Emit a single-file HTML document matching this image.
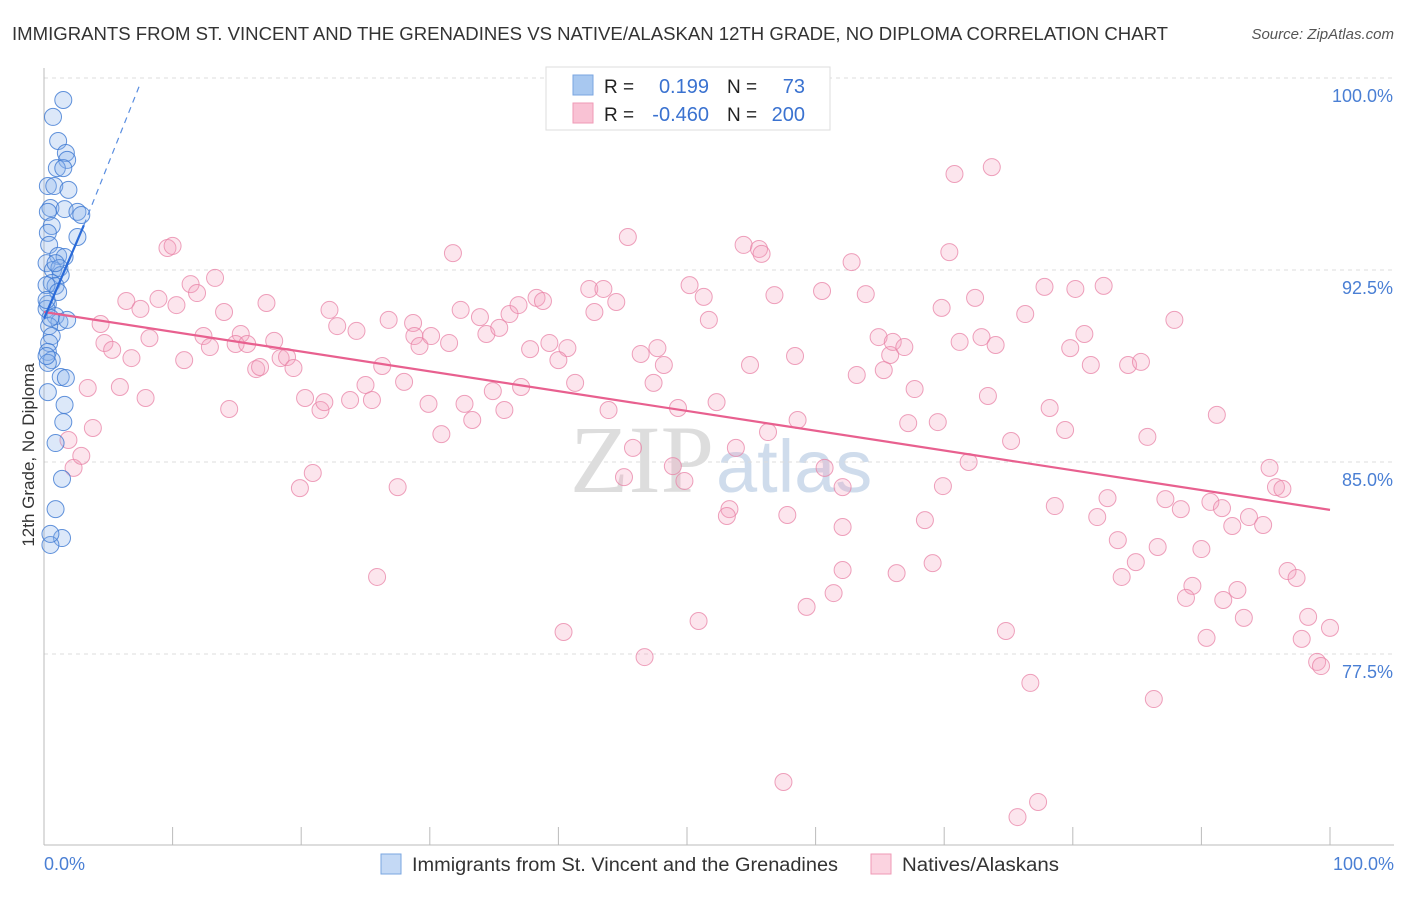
<!DOCTYPE html>
<html><head><meta charset="utf-8"><style>
body{margin:0;background:#fff;font-family:"Liberation Sans",sans-serif;}
svg text{font-family:"Liberation Sans",sans-serif;}
</style></head><body>
<svg id="chart" width="1406" height="892">
<text x="12" y="40" font-size="18" fill="#333" textLength="1156" lengthAdjust="spacingAndGlyphs">IMMIGRANTS FROM ST. VINCENT AND THE GRENADINES VS NATIVE/ALASKAN 12TH GRADE, NO DIPLOMA CORRELATION CHART</text>
<text x="1394" y="39" font-size="15" fill="#555" font-style="italic" text-anchor="end">Source: ZipAtlas.com</text>
<text x="714" y="492" font-size="96" fill="#ddd" text-anchor="end" style="font-family:'Liberation Serif',serif">ZIP</text>
<text x="716" y="492" font-size="74" fill="#cfdcec">atlas</text>
<g id="grid"></g><g id="marks"></g>
<text transform="translate(34,455) rotate(-90)" font-size="17" fill="#333" text-anchor="middle">12th Grade, No Diploma</text>
<text x="44" y="870" font-size="18" fill="#4a7fd4">0.0%</text>
<text x="1394" y="870" font-size="18" fill="#4a7fd4" text-anchor="end">100.0%</text>
<g>
<rect x="546" y="67" width="284" height="63" fill="#fff" stroke="#ddd"/>
<rect x="573" y="75" width="20" height="20" fill="#a8c8f0" stroke="#7aa6e0"/>
<rect x="573" y="103" width="20" height="20" fill="#f9c2d4" stroke="#ef9ab6"/>
<text x="604" y="93" font-size="19" fill="#222">R =</text><text x="709" y="93" font-size="20" fill="#3a72d0" text-anchor="end">0.199</text>
<text x="727" y="93" font-size="19" fill="#222">N =</text><text x="805" y="93" font-size="20" fill="#3a72d0" text-anchor="end">73</text>
<text x="604" y="121" font-size="19" fill="#222">R =</text><text x="709" y="121" font-size="20" fill="#3a72d0" text-anchor="end">-0.460</text>
<text x="727" y="121" font-size="19" fill="#222">N =</text><text x="805" y="121" font-size="20" fill="#3a72d0" text-anchor="end">200</text>
</g>
<g>
<rect x="381" y="854" width="20" height="20" fill="#c4d9f5" stroke="#7aa6e0"/>
<text x="412" y="871" font-size="19" fill="#333" textLength="426" lengthAdjust="spacingAndGlyphs">Immigrants from St. Vincent and the Grenadines</text>
<rect x="871" y="854" width="20" height="20" fill="#fbd3e0" stroke="#ef9ab6"/>
<text x="902" y="871" font-size="19" fill="#333" textLength="157" lengthAdjust="spacingAndGlyphs">Natives/Alaskans</text>
</g>
</svg>
<script>
const yTicks=[77.5,85.0,92.5,100.0];
const xTickVals=[0,10,20,30,40,50,60,70,80,90,100];
const blueX=[1.5,0.7,1.1,1.7,1.8,1.0,1.5,0.3,0.8,1.9,0.5,0.3,1.6,2.6,2.9,0.6,0.3,2.6,0.4,1.1,1.6,0.2,0.7,1.2,1.3,0.6,0.9,0.3,0.2,0.9,1.2,1.8,0.4,0.6,0.4,0.3,0.6,0.3,1.3,1.7,0.3,1.6,1.5,0.9,1.4,0.9,1.4,0.5,0.5,0.5,0.2,0.9,1.1,0.2,0.2];
const blueY=[99.14,98.48,97.54,97.07,96.8,96.48,96.48,95.78,95.78,95.63,94.92,94.77,94.88,94.77,94.65,94.22,93.95,93.79,93.48,93.05,93.01,92.77,92.5,92.58,92.3,91.99,91.88,91.17,90.98,90.7,90.47,90.55,90.31,89.92,89.65,89.3,88.98,88.87,88.32,88.28,87.73,87.23,86.56,85.74,84.34,83.16,82.03,81.76,82.19,90.63,91.91,92.77,91.64,91.33,89.14];
const pinkX=[60.2,73.7,70.8,45.4,54.4,55.6,55.8,9.6,10.0,31.8,70.4,62.8,13.3,11.4,11.9,6.4,8.9,7.5,10.3,17.3,14.0,4.4,4.7,5.3,6.8,8.2,10.9,12.4,12.9,15.3,14.9,15.8,17.9,18.4,18.9,19.4,16.5,16.8,22.2,22.8,24.3,26.8,28.7,28.8,29.2,30.1,31.5,32.4,33.9,34.4,35.4,36.2,36.9,38.3,38.8,37.8,39.3,40.7,40.0,42.4,43.5,44.5,42.8,46.4,47.7,48.2,47.4,50.2,51.3,51.7,56.8,60.5,63.9,64.9,65.8,66.0,66.9,65.3,63.2,54.9,58.4,67.7,69.8,71.2,72.4,72.9,74.0,76.3,77.8,80.2,82.4,80.9,79.8,81.4,84.3,85.3,87.9,3.4,5.9,7.9,14.4,20.3,21.5,21.8,23.8,25.5,25.0,26.3,28.0,29.9,32.7,33.3,30.9,34.9,35.8,37.1,41.3,43.9,49.3,52.3,56.3,58.6,60.7,62.1,67.2,69.5,73.4,75.2,78.2,79.4,85.8,91.2,3.8,1.9,2.3,2.9,19.9,20.9,27.5,45.8,45.1,48.9,49.8,53.8,53.3,53.1,57.8,62.1,68.5,71.9,69.9,78.6,82.7,81.9,87.2,88.4,90.7,91.6,93.7,94.8,92.4,95.3,95.8,96.3,83.5,86.6,84.9,83.8,90.0,96.7,97.4,89.3,88.8,91.7,92.8,93.3,98.3,100.0,97.8,90.4,69.1,66.3,62.1,61.4,59.3,50.9,40.4,46.7,25.9,74.8,76.7,86.3,99.0,99.3,57.5,77.3,75.7];
const pinkY=[98.75,96.52,96.25,93.79,93.48,93.32,93.13,93.36,93.44,93.16,93.2,92.81,92.19,91.95,91.6,91.29,91.37,90.98,91.13,91.21,90.86,90.39,89.65,89.38,89.06,89.84,88.98,89.92,89.49,90.0,89.61,89.61,89.73,89.06,89.1,88.67,88.63,88.71,90.94,90.31,90.12,90.55,90.43,89.92,89.53,89.92,89.65,90.94,90.66,90.0,90.24,90.78,91.13,91.41,91.29,89.41,89.65,89.45,88.98,91.76,91.76,91.25,90.86,89.22,89.45,88.79,88.09,91.91,91.45,90.55,91.52,91.68,91.56,89.88,89.18,89.69,89.49,88.59,88.4,88.79,89.14,87.85,91.02,89.69,91.41,89.88,89.57,90.78,91.84,91.76,91.88,90.0,89.45,88.79,88.79,88.91,90.55,87.89,87.93,87.5,87.07,87.5,87.03,87.34,87.42,87.42,88.01,88.75,88.13,87.27,87.27,86.64,86.09,87.77,87.03,87.93,88.09,87.03,87.11,87.34,86.17,86.64,84.77,84.02,86.52,86.56,87.58,85.82,87.11,86.25,85.98,86.84,86.33,85.86,84.77,85.24,83.98,84.57,84.02,85.55,84.41,84.84,84.26,85.55,83.16,82.89,82.93,82.46,82.73,85.0,84.06,83.28,83.59,82.85,83.55,83.16,83.44,83.2,82.85,82.54,82.5,84.77,84.02,83.95,81.95,81.68,81.09,80.51,81.6,80.74,80.47,80.16,79.69,79.61,80.0,78.91,78.95,78.52,78.09,78.13,81.05,80.66,80.78,79.88,79.34,78.79,78.36,77.38,80.51,78.4,76.37,75.74,77.19,77.03,72.5,71.72,71.13];
const pinkTrendX=[0,100];
const pinkTrendY=[90.86,83.13];
const blueTrendX=[0,3.1,7.5];
const blueTrendY=[90.6,94.25,99.8];

const NS="http://www.w3.org/2000/svg";
const X=v=>44+v*12.86;
const Y=v=>78+(100-v)*25.6;
function mk(tag,attrs,parent){const e=document.createElementNS(NS,tag);for(const k in attrs)e.setAttribute(k,attrs[k]);parent.appendChild(e);return e;}
const grid=document.getElementById('grid'),marks=document.getElementById('marks');
yTicks.forEach(t=>{
  const l=mk('line',{x1:44,x2:1394,y1:Y(t),y2:Y(t),stroke:'#ddd','stroke-dasharray':'4,4'},grid);
  
  
  const tx=mk('text',{x:1393,y:Y(t)+24,'font-size':18,fill:'#4a7fd4','text-anchor':'end'},grid);
  tx.textContent=t.toFixed(1)+'%';
  
  
});
const ax=mk('line',{x1:44,x2:44,y1:68,y2:845,stroke:'#bbb'},grid);


const bx=mk('line',{x1:44,x2:1394,y1:845,y2:845,stroke:'#bbb'},grid);


xTickVals.forEach(t=>{
  const l=mk('line',{x1:X(t),x2:X(t),y1:827,y2:845,stroke:'#bbb'},grid);
  
  
});
pinkX.forEach((v,i)=>{
  const c=mk('circle',{cx:X(v),cy:Y(pinkY[i]),r:8.5,fill:'rgba(244,160,190,0.28)',stroke:'rgba(232,130,165,0.75)','stroke-width':1},marks);
  
  
});
blueX.forEach((v,i)=>{
  const c=mk('circle',{cx:X(v),cy:Y(blueY[i]),r:8.5,fill:'rgba(140,180,235,0.3)',stroke:'rgba(60,120,210,0.8)','stroke-width':1},marks);
  
  
});
const pl=mk('line',{x1:X(pinkTrendX[0]),y1:Y(pinkTrendY[0]),x2:X(pinkTrendX[1]),y2:Y(pinkTrendY[1]),stroke:'#e8608f','stroke-width':2.2},marks);


const bl=mk('line',{x1:X(blueTrendX[0]),y1:Y(blueTrendY[0]),x2:X(blueTrendX[1]),y2:Y(blueTrendY[1]),stroke:'#2a6ad8','stroke-width':2.2},marks);


const bd=mk('line',{x1:X(blueTrendX[1]),y1:Y(blueTrendY[1]),x2:X(blueTrendX[2]),y2:Y(blueTrendY[2]),stroke:'#5a8ee0','stroke-width':1.2,'stroke-dasharray':'6,5'},marks);


</script>
</body></html>
